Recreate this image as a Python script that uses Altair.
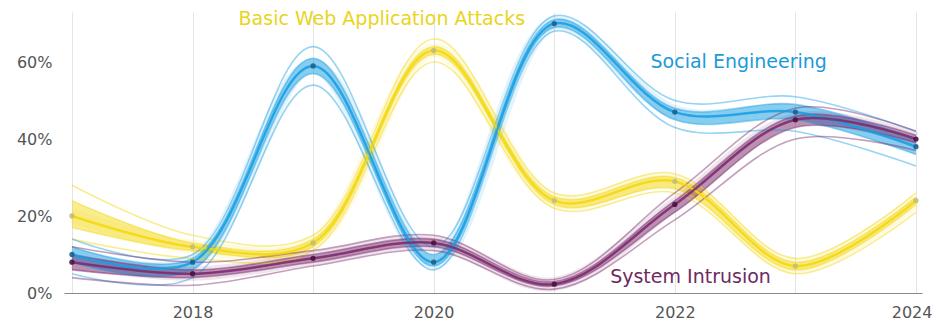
import altair as alt
import pandas as pd

years = [2017, 2018, 2019, 2020, 2021, 2022, 2023, 2024]
series = ["Basic Web Application Attacks", "Social Engineering", "System Intrusion"]
colors = ["#f3d80c", "#189fe3", "#7c2b6c"]
point_colors = ["#c4bd78", "#1d5f8c", "#4a1240"]

# ensemble draws (percent), per series: upper .. lower
draws = {
    "Basic Web Application Attacks": [
        [28, 15, 15, 66, 26, 31, 9, 26],
        [24, 13, 14, 64, 25, 30, 8, 25],
        [20, 12, 13, 63, 24, 29, 7, 24],
        [17, 11, 12, 62, 23, 27, 6, 23],
        [14, 9, 11, 60, 22, 26, 5, 21],
    ],
    "Social Engineering": [
        [14, 10, 64, 12, 72, 50, 51, 42],
        [12, 9, 61, 10, 71, 48, 49, 40],
        [10, 8, 59, 8, 70, 47, 47, 38],
        [8, 6, 57, 7, 69, 45, 45, 36],
        [5, 4, 54, 6, 68, 43, 42, 33],
    ],
    "System Intrusion": [
        [12, 8, 11, 15, 3.5, 26, 48, 42],
        [10, 6, 10, 14, 3, 24, 46, 41],
        [8, 5, 9, 13, 2.3, 23, 45, 40],
        [6, 4, 8, 12, 1.8, 21, 43, 39],
        [4, 2, 7, 11, 1, 19, 40, 37],
    ],
}
center_index = 2

label_text = ["Basic Web Application Attacks", "Social Engineering", "System Intrusion"]
label_year = [2019.57, 2022.53, 2022.13]
label_value = [71.1, 60.0, 4.2]
label_colors = ["#e9d420", "#1c9ad8", "#6e2a60"]

rows = []
band_rows = []
for s in series:
    for d, vals in enumerate(draws[s]):
        for y, v in zip(years, vals):
            rows.append({"series": s, "draw": d, "year": y, "value": v})
    for i, y in enumerate(years):
        band_rows.append({"series": s, "year": y,
                          "hi": draws[s][1][i], "lo": draws[s][3][i]})
df = pd.DataFrame(rows)
band = pd.DataFrame(band_rows)
center = df[df["draw"] == center_index]
labels = pd.DataFrame({"text": label_text, "year": label_year, "value": label_value, "c": label_colors})

W, H = 858, 281
FONT = "DejaVu Sans"
xscale = alt.Scale(domain=[2016.934, 2024.05], nice=False, zero=False)
yscale = alt.Scale(domain=[0, 73], nice=False)
cscale = alt.Scale(domain=series, range=colors)
pscale = alt.Scale(domain=series, range=point_colors)

xaxis = alt.Axis(values=years, format="d", grid=True, gridColor="#e4e4e4", ticks=False,
                 labelExpr="datum.value % 2 == 0 ? datum.label : ''",
                 labelFlush=10, labelFlushOffset=16,
                 domainColor="#8a8a8a", labelColor="#555555", labelFontSize=16,
                 labelFont=FONT, labelPadding=11, title=None)
yaxis = alt.Axis(values=[0, 20, 40, 60], labelExpr="datum.value + '%'", grid=False, ticks=False,
                 domain=False, labelColor="#555555", labelFontSize=16, labelFont=FONT,
                 labelPadding=12, title=None)

area = alt.Chart(band).mark_area(interpolate="catmull-rom", opacity=0.45).encode(
    x=alt.X("year:Q", scale=xscale, axis=xaxis),
    y=alt.Y("hi:Q", scale=yscale, axis=yaxis),
    y2="lo:Q",
    color=alt.Color("series:N", scale=cscale, legend=None),
    detail="series:N",
)
glow = alt.Chart(center).mark_line(interpolate="catmull-rom", strokeWidth=14, opacity=0.12).encode(
    x=alt.X("year:Q", scale=xscale),
    y=alt.Y("value:Q", scale=yscale),
    color=alt.Color("series:N", scale=cscale, legend=None),
    detail="series:N",
)
lines = alt.Chart(df).mark_line(interpolate="catmull-rom", strokeWidth=1.6, opacity=0.45).encode(
    x=alt.X("year:Q", scale=xscale),
    y=alt.Y("value:Q", scale=yscale),
    color=alt.Color("series:N", scale=cscale, legend=None),
    detail=alt.Detail(["series:N", "draw:N"]),
)
core = alt.Chart(center).mark_line(interpolate="catmull-rom", strokeWidth=2.5, opacity=0.8).encode(
    x=alt.X("year:Q", scale=xscale),
    y=alt.Y("value:Q", scale=yscale),
    color=alt.Color("series:N", scale=cscale, legend=None),
    detail="series:N",
)
pts = alt.Chart(center).mark_circle(size=28, opacity=0.9).encode(
    x=alt.X("year:Q", scale=xscale),
    y=alt.Y("value:Q", scale=yscale),
    color=alt.Color("series:N", scale=pscale, legend=None),
)
txt = alt.Chart(labels).mark_text(fontSize=19, font=FONT, align="center", baseline="middle").encode(
    x=alt.X("year:Q", scale=xscale),
    y=alt.Y("value:Q", scale=yscale),
    text="text:N",
    color=alt.Color("c:N", scale=None),
)

chart = alt.layer(area, glow, lines, core, pts, txt).resolve_scale(color="independent").properties(
    width=W, height=H, autosize="none",
    padding={"left": 56, "top": 4, "right": 10, "bottom": 30},
).configure(font=FONT).configure_view(stroke=None)

chart.save("out.html", embed_options={"renderer": "svg", "actions": False})
